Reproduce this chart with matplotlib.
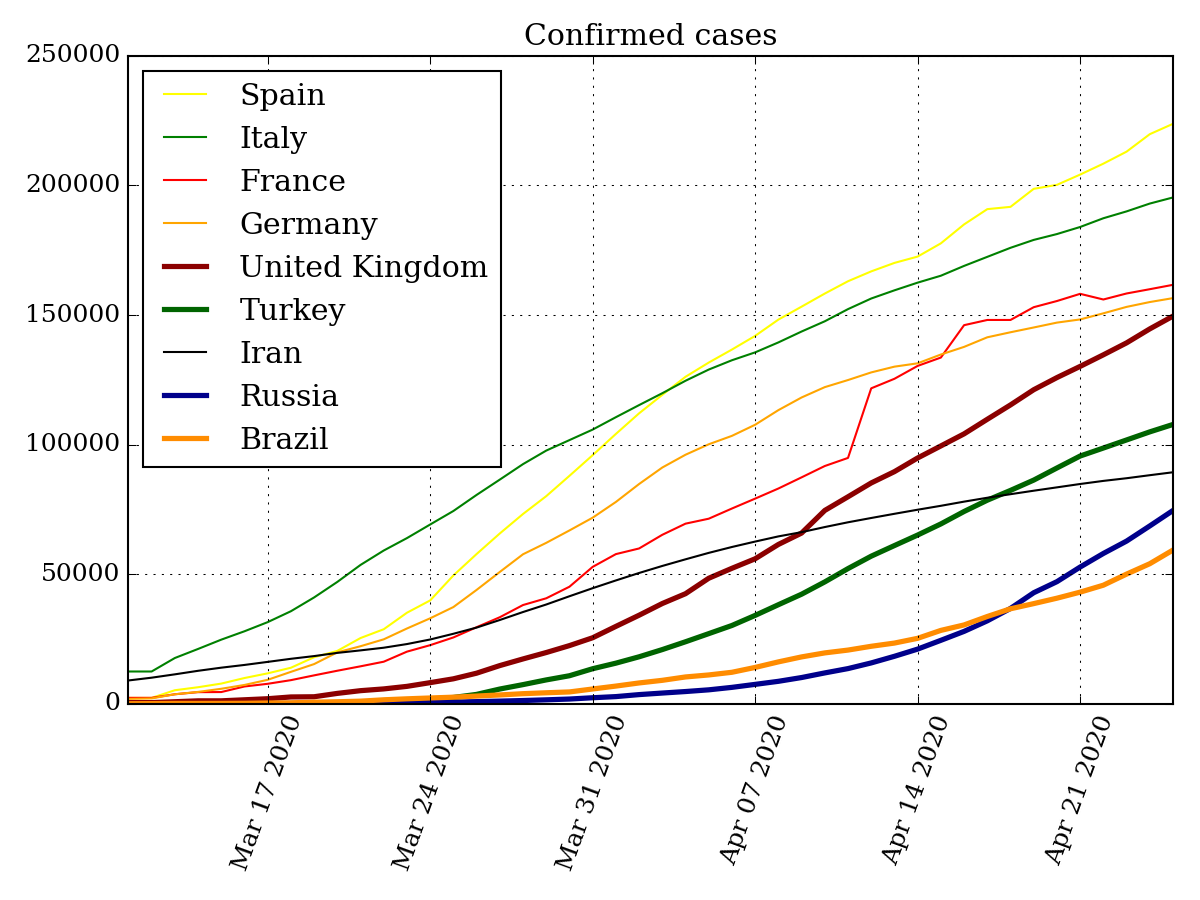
import matplotlib
matplotlib.use("Agg")
import matplotlib.pyplot as plt
import matplotlib.dates as mdates
import pandas as pd

dates = pd.date_range("2020-03-11", "2020-04-25", freq="D")

spain = [2277, 2277, 5232, 6391, 7798, 9942, 11748, 13910, 17963, 20410, 25374, 28768,
         35136, 39885, 49515, 57786, 65719, 73235, 80110, 87956, 95923, 104118, 112065,
         119199, 126168, 131646, 136675, 141942, 148220, 153222, 158273, 163027, 166831,
         170099, 172541, 177644, 184948, 190839, 191726, 198674, 200210, 204178, 208389,
         213024, 219764, 223759]
italy = [12462, 12462, 17660, 21157, 24747, 27980, 31506, 35713, 41035, 47021, 53578,
         59138, 63927, 69176, 74386, 80589, 86498, 92472, 97689, 101739, 105792, 110574,
         115242, 119827, 124632, 128948, 132547, 135586, 139422, 143626, 147577, 152271,
         156363, 159516, 162488, 165155, 168941, 172434, 175925, 178972, 181228, 183957,
         187327, 189973, 192994, 195351]
france = [2293, 2293, 3681, 4496, 4532, 6683, 7715, 9124, 10970, 12758, 14463, 16243,
          20123, 22622, 25600, 29551, 33402, 38105, 40708, 45170, 52827, 57749, 59929,
          65202, 69500, 71412, 75343, 79163, 83057, 87366, 91738, 94863, 121712, 125394,
          130365, 133585, 146075, 148084, 148086, 153011, 155393, 158168, 155980, 158303,
          159952, 161644]
germany = [1908, 2078, 3675, 4585, 5795, 7272, 9257, 12327, 15320, 19848, 22213, 24873,
           29056, 32986, 37323, 43938, 50871, 57695, 62095, 66885, 71808, 77872, 84794,
           91159, 96092, 100123, 103374, 107663, 113296, 118181, 122171, 124908, 127854,
           130072, 131359, 134753, 137698, 141397, 143342, 145184, 147065, 148291, 150648,
           153129, 154999, 156513]
uk = [459, 459, 802, 1144, 1145, 1551, 1960, 2642, 2716, 4014, 5067, 5745, 6726, 8164,
      9640, 11812, 14745, 17312, 19780, 22453, 25481, 29865, 34173, 38689, 42477, 48436,
      52279, 55949, 61474, 65872, 74605, 79874, 85206, 89570, 94845, 99483, 104145,
      109769, 115314, 121172, 125856, 130172, 134638, 139246, 144640, 149569]
turkey = [1, 1, 5, 5, 6, 18, 47, 98, 192, 359, 670, 1236, 1529, 1872, 2433, 3629, 5698,
          7402, 9217, 10827, 13531, 15679, 18135, 20921, 23934, 27069, 30217, 34109, 38226,
          42282, 47029, 52167, 56956, 61049, 65111, 69392, 74193, 78546, 82329, 86306,
          90980, 95591, 98674, 101790, 104912, 107773]
iran = [9000, 10075, 11364, 12729, 13938, 14991, 16169, 17361, 18407, 19644, 20610, 21638,
        23049, 24811, 27017, 29406, 32332, 35408, 38309, 41495, 44605, 47593, 50468, 53183,
        55743, 58226, 60500, 62589, 64586, 66220, 68192, 70029, 71686, 73303, 74877, 76389,
        77995, 79494, 80868, 82211, 83505, 84802, 85996, 87026, 88194, 89328]
russia = [20, 28, 45, 59, 63, 90, 114, 147, 199, 253, 306, 367, 438, 495, 658, 840, 1036,
          1264, 1534, 1836, 2337, 2777, 3548, 4149, 4731, 5389, 6343, 7497, 8672, 10131,
          11917, 13584, 15770, 18328, 21102, 24490, 27938, 32008, 36793, 42853, 47121,
          52763, 57999, 62773, 68622, 74588]
brazil = [52, 77, 151, 151, 162, 200, 321, 372, 621, 793, 1021, 1546, 1924, 2247, 2554,
          2985, 3417, 3904, 4256, 4579, 5717, 6836, 8044, 9056, 10360, 11130, 12161, 14034,
          16170, 18092, 19638, 20727, 22192, 23430, 25262, 28320, 30425, 33682, 36658,
          38654, 40743, 43079, 45757, 50036, 54043, 59324]

series = [
    ("Spain", spain, "yellow", 1),
    ("Italy", italy, "green", 1),
    ("France", france, "red", 1),
    ("Germany", germany, "orange", 1),
    ("United Kingdom", uk, "darkred", 2.5),
    ("Turkey", turkey, "darkgreen", 2.5),
    ("Iran", iran, "black", 1),
    ("Russia", russia, "darkblue", 2.5),
    ("Brazil", brazil, "darkorange", 2.5),
]

plt.style.use("classic")
plt.rcParams["font.family"] = "serif"
plt.rcParams["font.serif"] = ["DejaVu Serif"]
fig, ax = plt.subplots(figsize=(8, 6), dpi=150)
fig.subplots_adjust(left=0.107, right=0.9775, top=0.938, bottom=0.218)

for name, vals, color, lw in series:
    ax.plot(dates, vals, color=color, lw=lw, label=name)

ax.set_title("Confirmed cases", fontsize=14.4)
ax.xaxis.set_major_locator(mdates.WeekdayLocator(byweekday=mdates.TU))
ax.xaxis.set_major_formatter(mdates.DateFormatter("%b %d %Y"))
for lab in ax.get_xticklabels():
    lab.set_rotation(70)
ax.set_xlim(dates[0], dates[-1])
ax.set_ylim(0, 250000)
ax.grid(True)
ax.legend(loc="upper left", fontsize=14.4)

fig.savefig("out.png", dpi=150)
